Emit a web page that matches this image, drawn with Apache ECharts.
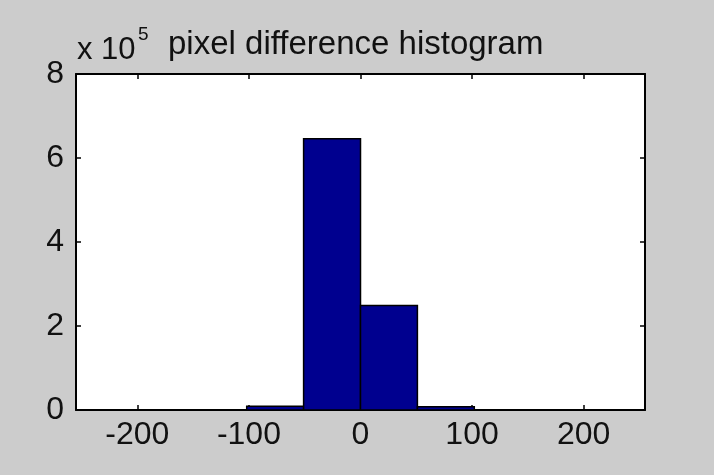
<!DOCTYPE html>
<html>
<head>
<meta charset="utf-8">
<title>pixel difference histogram</title>
<script src="https://cdn.jsdelivr.net/npm/echarts@6/dist/echarts.min.js"></script>
<style>
  html, body { margin: 0; padding: 0; background: #cccccc; }
  #chart { width: 714px; height: 475px; }
</style>
</head>
<body>
<div id="chart"></div>
<script>
// hist() with 10 bins over [-255, 255], bin width 51
const binLeft = [-255, -204, -153, -102, -51, 0, 51, 102, 153, 204]
const binRight = [-204, -153, -102, -51, 0, 51, 102, 153, 204, 255]
const counts = [0, 0, 0, 9000, 646000, 249000, 8000, 0, 0, 0]
const xTicks = [-200, -100, 0, 100, 200]
const yTicks = [0, 200000, 400000, 600000, 800000]

const font = '"Liberation Sans", Arial, sans-serif'
const textColor = '#111'
const barColor = '#00008f'

const chart = echarts.init(document.getElementById('chart'))

const seriesData = counts.map((c, i) => [binLeft[i], binRight[i], c])

chart.setOption({
  backgroundColor: '#cccccc',
  animation: false,
  title: [
    {
      text: 'pixel difference histogram',
      left: 168,
      top: 28,
      padding: 0,
      textStyle: { fontFamily: font, fontSize: 33, fontWeight: 'normal', color: textColor }
    },
    // axis multiplier, sits a bit lower than the title like in matlab
    {
      text: 'x 10',
      left: 77,
      top: 35,
      padding: 0,
      textStyle: { fontFamily: font, fontSize: 31, fontWeight: 'normal', color: textColor }
    },
    {
      text: '5',
      left: 138,
      top: 25,
      padding: 0,
      textStyle: { fontFamily: font, fontSize: 19, fontWeight: 'normal', color: textColor }
    }
  ],
  grid: {
    left: 76,
    right: 69,
    top: 74,
    bottom: 65,
    show: true,
    backgroundColor: '#ffffff',
    borderWidth: 0
  },
  xAxis: [
    {
      type: 'value',
      min: -255,
      max: 255,
      position: 'bottom',
      axisLine: { show: true, onZero: false, lineStyle: { color: '#000', width: 2 } },
      axisTick: { show: true, inside: true, length: 5, customValues: xTicks, lineStyle: { color: '#000', width: 1.5 } },
      axisLabel: {
        customValues: xTicks,
        margin: 9,
        fontFamily: font,
        fontSize: 32,
        color: textColor
      },
      splitLine: { show: false }
    },
    {
      type: 'value',
      min: -255,
      max: 255,
      position: 'top',
      axisLine: { show: true, onZero: false, lineStyle: { color: '#000', width: 2 } },
      axisTick: { show: true, inside: true, length: 5, customValues: xTicks, lineStyle: { color: '#000', width: 1.5 } },
      axisLabel: { show: false },
      splitLine: { show: false }
    }
  ],
  yAxis: [
    {
      type: 'value',
      min: 0,
      max: 800000,
      interval: 200000,
      position: 'left',
      axisLine: { show: true, onZero: false, lineStyle: { color: '#000', width: 2 } },
      axisTick: { show: true, inside: true, length: 5, customValues: yTicks, lineStyle: { color: '#000', width: 1.5 } },
      axisLabel: {
        margin: 12,
        fontFamily: font,
        fontSize: 32,
        color: textColor,
        formatter: v => String(v / 100000)
      },
      splitLine: { show: false }
    },
    {
      type: 'value',
      min: 0,
      max: 800000,
      interval: 200000,
      position: 'right',
      axisLine: { show: true, onZero: false, lineStyle: { color: '#000', width: 2 } },
      axisTick: { show: true, inside: true, length: 5, lineStyle: { color: '#000', width: 1.5 } },
      axisLabel: { show: false },
      splitLine: { show: false }
    }
  ],
  series: [
    {
      type: 'custom',
      xAxisIndex: 0,
      yAxisIndex: 0,
      data: seriesData,
      encode: { x: [0, 1], y: 2 },
      renderItem(params, api) {
        const p0 = api.coord([api.value(0), api.value(2)])
        const p1 = api.coord([api.value(1), 0])
        return {
          type: 'rect',
          shape: { x: p0[0], y: p0[1], width: p1[0] - p0[0], height: p1[1] - p0[1] },
          style: { fill: barColor, stroke: '#000', lineWidth: 1.5 }
        }
      }
    }
  ]
})
</script>
</body>
</html>
